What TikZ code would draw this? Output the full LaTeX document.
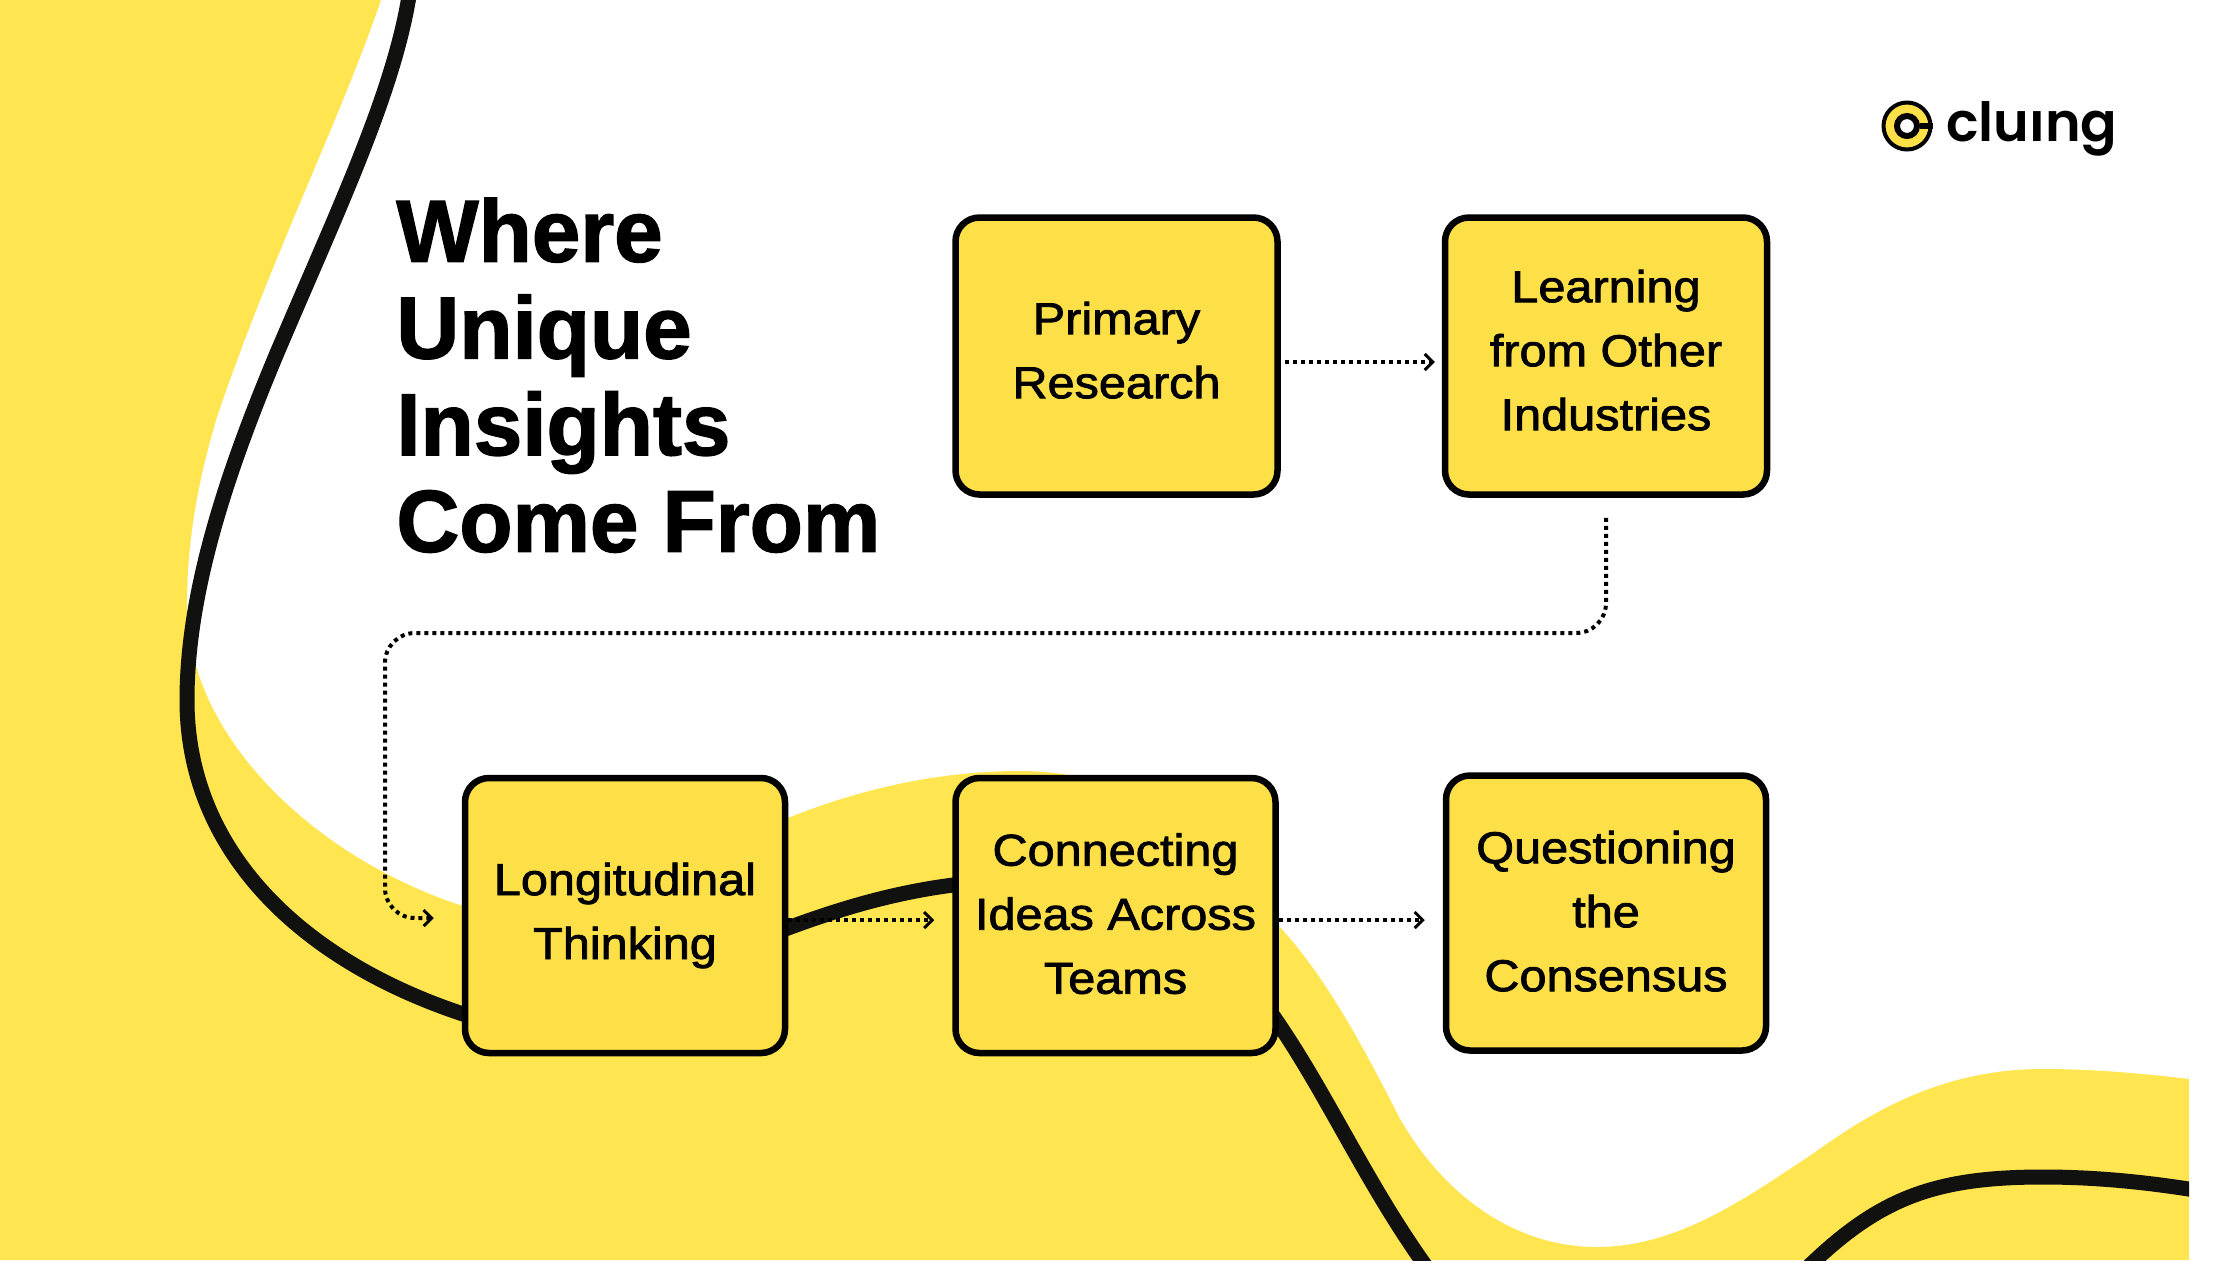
\documentclass[tikz,border=0pt]{standalone}
\usepackage{fontspec}
\definecolor{BlobYellow}{RGB}{255, 229, 79}
\definecolor{BoxYellow}{RGB}{253, 223, 71}
\definecolor{WaveBlack}{RGB}{17, 17, 15}
\newfontfamily\titlefont[UprightFont=* Bold, FakeBold=1.6, FakeStretch=0.99]{Liberation Sans}
\newfontfamily\boxfont[FakeBold=1.8, FakeStretch=1.09]{Liberation Sans}
\newfontfamily\logofont{Poppins SemiBold}
\usetikzlibrary{arrows.meta, positioning, calc}

\begin{document}
\begin{tikzpicture}[
            x=0.5pt, y=-0.5pt,
            stepbox/.style={rectangle, rounded corners=12pt, draw=black, line width=3.25pt, fill=BoxYellow,
                        minimum width=160pt, minimum height=137.5pt, align=center, inner sep=0pt,
                        font=\boxfont\fontsize{22.3}{32}\selectfont,
                        execute at begin node={\rule{0pt}{23pt}}, execute at end node={\rule[-#1]{0pt}{0pt}}},
            stepbox/.default=2pt,
            toprow/.style={stepbox=6pt, minimum width=161pt, minimum height=138.5pt},
            headline/.style={anchor=north west, align=left, inner sep=0pt, font=\titlefont\fontsize{44}{48.35}\selectfont},
            wave/.style={WaveBlack, line width=7.5pt},
            flow/.style={-{Straight Barb[length=4pt, width=8pt, line width=1.5pt]}, line width=2pt,
                        dash pattern=on 2pt off 2pt}
        ]
            \useasboundingbox (0,0) rectangle (2240,1260);

            % yellow ground
            \fill[BlobYellow] (0,0) -- (381,0) .. controls (340,120) and (270,260) .. (217,417)
                .. controls (195,490) and (187,550) .. (187,605)
                .. controls (187,740) and (320,860) .. (463,906)
                .. controls (560,935) and (660,870) .. (788,818)
                .. controls (850,793) and (930,771) .. (1020,771)
                .. controls (1130,771) and (1210,830) .. (1278,925)
                .. controls (1325,975) and (1365,1050) .. (1399,1117)
                .. controls (1440,1190) and (1510,1247) .. (1597,1247)
                .. controls (1680,1247) and (1750,1195) .. (1814,1153)
                .. controls (1880,1105) and (1950,1069) .. (2043,1069)
                .. controls (2090,1069) and (2140,1073) .. (2189,1079)
                -- (2189,1260) -- (0,1260) -- cycle;

            % black wave
            \begin{scope}
                \clip (0,0) rectangle (2189,1260);
                \draw[wave] (410,-10) .. controls (395,90) and (340,205) .. (277,353)
                    .. controls (228,470) and (187,590) .. (187,700)
                    .. controls (187,850) and (300,960) .. (463,1014)
                    .. controls (600,1050) and (680,965) .. (788,928)
                    .. controls (850,905) and (900,892) .. (953,885)
                    .. controls (1090,865) and (1190,890) .. (1280,1026)
                    .. controls (1330,1100) and (1370,1190) .. (1430,1272);
                \draw[wave] (1800,1275) .. controls (1875,1200) and (1930,1177) .. (2043,1177)
                    .. controls (2095,1177) and (2145,1182) .. (2195,1190);
            \end{scope}

            \node[headline] (title) at (396,197.5) {Where\\Unique\\Insights\\Come From};

            \node[stepbox, toprow] (primary) at (1116.5,356) {Primary\\Research};
            \node[stepbox, toprow, right=80.5pt of primary] (learning) {Learning\\from Other\\Industries};
            \node[stepbox] (longitudinal) at (625,915.5) {Longitudinal\\Thinking};
            \node[stepbox, right=82pt of longitudinal] (connecting) {Connecting\\Ideas Across\\Teams};
            \node[stepbox, right=82pt of connecting, yshift=1.25pt] (questioning) {Questioning\\the\\Consensus};

            \coordinate (bend) at (385,633);

            \draw[flow, shorten <=2pt, shorten >=3.5pt] ([yshift=-3pt]primary.east) -- ([yshift=-3pt]learning.west);
            \draw[flow, rounded corners=15pt, shorten <=10pt, shorten >=14pt] (learning.south) |- (bend) |- ([yshift=-1.25pt]longitudinal.west);
            \draw[flow, shorten >=9pt] ([yshift=-2.25pt]longitudinal.east) -- ([yshift=-2.25pt]connecting.west);
            \draw[flow, shorten >=9pt] ([yshift=-2.25pt]connecting.east) -- ([yshift=-2.25pt]connecting.east -| questioning.west);

            % logo
            \node[circle, draw=black, line width=2pt, fill=BoxYellow, minimum size=23.5pt, inner sep=0pt] (logomark) at (1907,126) {};
            \node[circle, draw=black, line width=3pt, fill=white, minimum size=10pt, inner sep=0pt] (logohole) at (logomark) {};
            \draw[black, line width=3pt] (logohole.east) -- (logomark.east);
            \node[anchor=base west, inner sep=0pt, font=\logofont\fontsize{27}{27}\selectfont] (logotext) at (1946,141) {clu\char"0131 ng};
        \end{tikzpicture}
\end{document}
